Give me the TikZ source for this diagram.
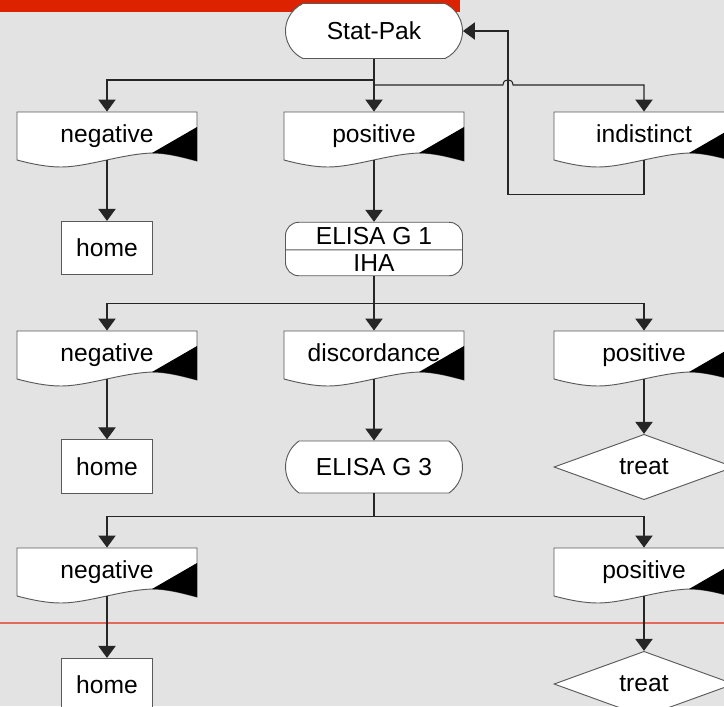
\documentclass[tikz,border=0pt]{standalone}
\usepackage{fontspec}
\setmainfont{Liberation Sans}
\usetikzlibrary{shapes.multipart}
\usetikzlibrary{shapes.misc}
\usetikzlibrary{shapes.geometric}
\usetikzlibrary{arrows.meta}

\definecolor{pagegray}{HTML}{E3E3E3}
\definecolor{barred}{HTML}{DD2200}
\definecolor{rulered}{HTML}{E36A5A}
\definecolor{edgegray}{HTML}{5A5A5A}

% document shape drawn under a named node: name, position, text
\newcommand{\docnode}[3]{%
  \begin{scope}[shift={#2}]
    \filldraw[fill=white, draw=edgegray, line width=0.4pt]
      (-90,-24) -- (90,-24) -- (90,25) .. controls (75,21) and (60,17) .. (45,17)
      .. controls (15,18) and (-20,31) .. (-46,31)
      .. controls (-60,31) and (-75,28) .. (-90,24) -- cycle;
    \fill (45,17) -- (90,-9) -- (90,25) .. controls (75,21) and (60,17) .. (45,17) -- cycle;
  \end{scope}
  \node[doc] (#1) at #2 {#3};
}

\begin{document}
\begin{tikzpicture}[x=0.015cm, y=-0.015cm,
    font=\fontsize{10.5}{12.6}\selectfont,
    doc/.style={rectangle, minimum width=2.7cm, minimum height=0.72cm, inner sep=0pt,
      text height=7.5pt, text depth=2.2pt},
    term/.style={rounded rectangle, rounded rectangle arc length=130, draw=edgegray, fill=white,
      line width=0.4pt, minimum width=2.655cm, minimum height=#1, inner sep=0pt},
    split/.style={rectangle split, rectangle split parts=2, draw=edgegray, fill=white,
      line width=0.4pt, rounded corners=0.2cm, minimum width=2.655cm,
      text height=7.5pt, text depth=0.5pt, inner ysep=1.7pt},
    box/.style={rectangle, draw=edgegray, fill=white, line width=0.4pt,
      minimum width=1.365cm, minimum height=0.8cm, inner sep=0pt},
    decide/.style={diamond, draw=edgegray, fill=white, line width=0.4pt,
      minimum width=2.7cm, minimum height=0.78cm, inner sep=0pt},
    line/.style={draw=black!85, line width=0.45pt},
    arr/.style={line, -{Triangle[width=0.26cm, length=0.18cm]}}]

  % page
  \useasboundingbox (0,0) rectangle (724,706);
  \fill[pagegray] (0,0) rectangle (724,706);
  \fill[barred] (0,0) rectangle (460,12);
  \draw[rulered, line width=0.7pt] (0,623) -- (724,623);

  % first test
  \node[term=0.825cm] (statpak) at (374,31) {Stat-Pak};
  \docnode{neg1}{(107,136)}{negative}
  \docnode{pos1}{(374,136)}{positive}
  \docnode{ind1}{(644,136)}{indistinct}
  \node[box] (home1) at (107,248) {home};
  \node[split] (elisa1) at (374,249) {ELISA G 1 \nodepart{two} IHA};

  % second test
  \docnode{neg2}{(107,355)}{negative}
  \docnode{disc2}{(374,355)}{discordance}
  \docnode{pos2}{(644,355)}{positive}
  \node[box] (home2) at (107,466.5) {home};
  \node[term=0.78cm, rounded rectangle arc length=110] (elisa3) at (374,467) {ELISA G 3};
  \node[decide] (treat2) at (644,467) {treat};

  % third test
  \docnode{neg3}{(107,572)}{negative}
  \docnode{pos3}{(644,572)}{positive}
  \node[box] (home3) at (107,685) {home};
  \node[decide] (treat3) at (644,684) {treat};

  \coordinate (hopL) at (503,85);
  \coordinate (hop) at (508,85);
  \coordinate (hopR) at (513,85);

  \draw[arr] (statpak.south) -- (pos1.north);
  \draw[arr] (statpak.south) -- ++(0,21) -| (neg1.north);
  \draw[arr] (statpak.south |- hopL) -- (hopL) .. controls +(0,-7) and +(0,-7) .. (hopR) -| (ind1.north);
  \draw[arr] (ind1.south) -- ++(0,34) -| (hop) |- (statpak.east);
  \draw[arr] (neg1.south) -- (home1.north);
  \draw[arr] (pos1.south) -- (elisa1.north);

  \draw[arr] (elisa1.south) -- (disc2.north);
  \draw[arr] (elisa1.south) -- ++(0,27) -| (neg2.north);
  \draw[arr] (elisa1.south) -- ++(0,27) -| (pos2.north);
  \draw[arr] (neg2.south) -- (home2.north);
  \draw[arr] (disc2.south) -- (elisa3.north);
  \draw[arr] (pos2.south) -- (treat2.north);

  \draw[arr] (elisa3.south) -- ++(0,23) -| (neg3.north);
  \draw[arr] (elisa3.south) -- ++(0,23) -| (pos3.north);
  \draw[arr] (neg3.south) -- (home3.north);
  \draw[arr] (pos3.south) -- (treat3.north);

\end{tikzpicture}
\end{document}
